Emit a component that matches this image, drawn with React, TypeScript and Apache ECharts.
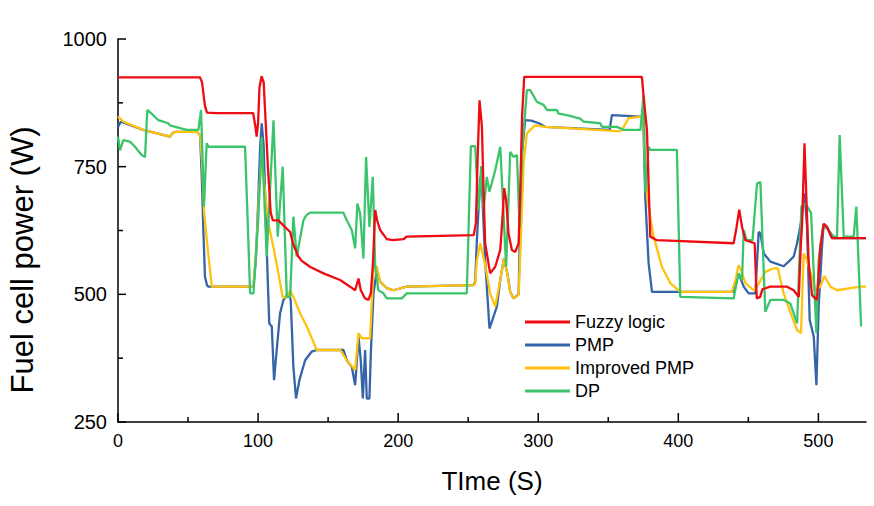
import React, { useEffect, useRef } from "react";
import * as echarts from "echarts";

const xMajorTicks = [0, 100, 200, 300, 400, 500];
const xMinorTicks = [50, 150, 250, 350, 450];
const yMajorTicks = [250, 500, 750, 1000];
const yMinorTicks = [375, 625, 875];

const fuzzyData: number[][] = [
  [0, 925], [58.5, 925], [60, 915], [62, 870], [63.5, 856], [70, 855], [96.5, 855], [98, 830], [99, 809],
  [100, 835], [101, 905], [102.5, 927], [104, 915], [105, 860], [107, 750], [109, 660], [110.5, 645],
  [114.5, 645], [118, 635], [122.9, 622], [125.2, 597], [128.8, 574], [131, 566], [137, 554], [146.7, 541],
  [158.6, 528], [165.7, 515], [169.3, 508], [171.7, 531], [173.3, 508], [176.4, 492], [178.8, 489],
  [180.5, 502], [182, 560], [183.6, 665], [185, 645], [187.1, 626], [191.9, 608], [196, 606], [204, 608],
  [206, 613], [254, 616], [255.5, 640], [256.7, 763], [258.1, 880], [259.8, 828], [261, 700], [262.1, 600],
  [265.7, 541], [269.3, 554], [272.9, 587], [274.5, 650], [275.7, 708], [277.1, 685], [278.8, 619],
  [281.2, 587], [283.6, 583], [286, 600], [287.1, 698], [288.5, 850], [290, 926], [374, 926], [375.5, 880],
  [377.6, 822], [380, 613], [384.8, 606], [439.5, 600], [441.5, 630], [443.5, 666], [445.5, 632],
  [447.9, 606], [454.5, 600], [456, 492], [458.5, 495], [460, 510], [465.7, 515], [477.6, 515],
  [482.4, 508], [486, 495], [487.5, 600], [488.3, 632], [490.1, 796], [491.4, 691], [493.1, 561],
  [495.5, 498], [499, 489], [501.4, 593], [503.8, 638], [506.2, 632], [509.8, 610], [534, 610],
];

const pmpData: number[][] = [
  [0, 828], [2, 838], [5, 835], [18, 822], [37, 809], [39, 816], [40.7, 818], [56.2, 818], [58.6, 812],
  [59.8, 730], [61, 620], [62.1, 534], [63.5, 518], [64.5, 515], [96.7, 515], [98.5, 570], [100.2, 691],
  [101.5, 790], [102.6, 835], [104, 790], [105.5, 650], [107, 520], [108, 443], [109.8, 437], [111.4, 332],
  [113.3, 391], [115.7, 463], [118.1, 489], [121.7, 502], [123.3, 489], [125.2, 358], [127.1, 296],
  [129.5, 332], [133.6, 371], [138.3, 388], [141.9, 391], [161, 391], [163.3, 371], [166.9, 358],
  [169.3, 322], [171.7, 417], [173.3, 371], [174.8, 296], [176.4, 391], [177.6, 296], [179.5, 296],
  [180.5, 385], [182.4, 502], [184.8, 548], [187.1, 525], [191.9, 512], [196.7, 508], [206, 515],
  [253.8, 518], [255, 525], [256.2, 606], [258.6, 730], [260, 700], [262.1, 567], [265.2, 433], [268, 456],
  [270.5, 476], [273, 530], [275.5, 570], [278, 540], [280, 505], [282.4, 492], [286, 500], [287.1, 645],
  [288.5, 780], [290.7, 841], [295, 840], [300.5, 835], [305, 828], [351, 822], [352.6, 851], [372.9, 848],
  [375, 845], [376.4, 691], [378.8, 561], [381.2, 505], [439.5, 505], [441.5, 530], [443, 541],
  [446.7, 515], [450.2, 502], [455, 502], [457.4, 622], [458.6, 620], [461, 580], [465.7, 564],
  [475.2, 555], [478.8, 564], [482.4, 574], [484.8, 600], [487.9, 645], [490.2, 698], [491.9, 632],
  [493.8, 450], [496.7, 417], [498.6, 322], [500.2, 476], [502.6, 593], [503.8, 638], [506.2, 632],
  [509.8, 610], [534, 610],
];

const improvedPmpData: number[][] = [
  [0, 848], [4, 838], [18, 822], [37, 809], [39, 816], [40.7, 818], [56.2, 818], [58.6, 812], [60, 760],
  [61.5, 660], [64, 590], [67, 515], [96.7, 515], [99, 600], [100.5, 690], [102.6, 763], [105, 700],
  [107.4, 639], [110.9, 593], [114.5, 541], [117.6, 494], [120.5, 494], [122.9, 508], [125.2, 495],
  [130, 463], [134.8, 437], [141.9, 391], [158.6, 391], [163.3, 371], [169.3, 352], [171.7, 424],
  [174, 414], [180, 414], [182.4, 554], [184.8, 554], [187.1, 525], [191.9, 512], [196.7, 508], [206, 515],
  [253.8, 518], [255, 521], [256.2, 567], [258.6, 600], [262, 560], [265.7, 502], [269.3, 476], [273, 530],
  [275.5, 570], [278, 540], [280, 505], [282.4, 492], [286, 499], [287.5, 600], [289.5, 756], [291.9, 815],
  [294.3, 822], [297.9, 831], [305, 828], [330, 824], [358.6, 819], [361, 828], [364.5, 845], [373, 848],
  [375, 845], [376.2, 760], [377.6, 698], [380, 650], [382.4, 613], [388.3, 554], [394.3, 522],
  [401.4, 505], [438.3, 505], [441, 530], [443, 557], [444.5, 550], [447.9, 522], [453.8, 508],
  [456.2, 515], [462.1, 544], [468.1, 551], [471, 551], [475.2, 502], [481.2, 456], [484.8, 430],
  [487.6, 424], [489.5, 580], [491.9, 567], [497.9, 508], [501.4, 515], [504.3, 536], [508.6, 515],
  [513.3, 508], [530, 515], [534, 515],
];

const dpData: number[][] = [
  [0, 809], [1.4, 782], [3.8, 802], [8.6, 799], [12.1, 789], [16.9, 773], [19.3, 769], [20.9, 861],
  [24, 854], [28.8, 841], [35.9, 835], [37, 831], [49, 822], [57.4, 822], [59.3, 861], [61.4, 672],
  [63.3, 796], [64.5, 789], [90.7, 789], [92.5, 650], [94.3, 502], [96.7, 502], [100.2, 652], [102.6, 808],
  [106.2, 574], [111, 841], [114, 613], [117.6, 750], [120.5, 495], [122.9, 495], [125.2, 652],
  [127.6, 574], [132.4, 645], [134.5, 655], [137.1, 660], [160.9, 660], [163.3, 645], [166.9, 626],
  [169.3, 590], [170.9, 678], [172.9, 658], [175.2, 570], [177.1, 769], [179.5, 632], [181.9, 730],
  [183.6, 554], [185.9, 508], [189.5, 502], [191.9, 492], [202.6, 492], [206.2, 502], [249, 502],
  [251.9, 790], [255, 790], [257.4, 665], [259.3, 751], [261, 665], [263.3, 730], [265.2, 701],
  [269.3, 743], [272.9, 789], [277.1, 554], [280, 779], [282.4, 769], [284.8, 773], [286.7, 632],
  [288.5, 780], [291.9, 900], [294.3, 900], [299, 877], [303.8, 871], [306.2, 861], [313.3, 861],
  [314.5, 854], [320.5, 851], [330, 844], [332.4, 838], [344.3, 835], [345.5, 828], [356.2, 828],
  [361, 822], [373, 822], [375.2, 890], [376.5, 700], [378.8, 789], [380, 783], [399, 783], [401.4, 495],
  [439.5, 492], [443, 541], [445.5, 528], [446.7, 626], [448.8, 606], [453, 606], [456.2, 717],
  [458.6, 720], [462.1, 466], [465.7, 489], [475.2, 489], [480, 482], [484.8, 443], [487.9, 672],
  [490.7, 678], [494.8, 659], [498.6, 424], [500.2, 567], [503.3, 632], [506.2, 629], [511, 613],
  [513.3, 613], [515.2, 812], [518.1, 613], [525.2, 613], [527.1, 672], [530.5, 437],
];

const seriesNames = ["Fuzzy logic", "PMP", "Improved PMP", "DP"];

const FONT = "'Liberation Sans', Arial, Helvetica, sans-serif";

export default function App() {
  const ref = useRef<HTMLDivElement>(null);
  useEffect(() => {
    if (!ref.current) return;
    const chart = echarts.init(ref.current, undefined, { renderer: "svg" });
    const axisLineStyle = { color: "#000", width: 1.5 };
    const X_MIN = 0;
    const Y_MIN = 250;
    const mk = (name: string, data: number[][], color: string) => ({
      name,
      type: "line",
      data,
      showSymbol: false,
      symbol: "none",
      lineStyle: { color, width: 2.3 },
      itemStyle: { color },
      z: 2,
    });
    const tickSeries = (vals: number[], dir: "x" | "y", len: number) => ({
      type: "custom",
      silent: true,
      z: 5,
      data: vals.map((v) => [v]),
      renderItem: (_p: any, api: any) => {
        const v = api.value(0);
        const pt = dir === "x" ? api.coord([v, Y_MIN]) : api.coord([X_MIN, v]);
        return {
          type: "line",
          shape:
            dir === "x"
              ? { x1: pt[0], y1: pt[1], x2: pt[0], y2: pt[1] - len }
              : { x1: pt[0], y1: pt[1], x2: pt[0] + len, y2: pt[1] },
          style: { stroke: "#000", lineWidth: 1.5 },
        };
      },
    });
    chart.setOption({
      animation: false,
      backgroundColor: "#fff",
      textStyle: { fontFamily: FONT },
      grid: { left: 118, right: 8, top: 39, bottom: 84, containLabel: false },
      legend: {
        data: seriesNames,
        orient: "vertical",
        left: 525,
        top: 313,
        padding: 0,
        icon: "rect",
        itemWidth: 45,
        itemHeight: 3,
        itemGap: 5,
        textStyle: { fontSize: 18, color: "#000", fontFamily: FONT, lineHeight: 18 },
      },
      graphic: [
        {
          type: "text",
          x: 22,
          y: 260,
          rotation: Math.PI / 2,
          silent: true,
          style: {
            text: "Fuel cell power (W)",
            fontSize: 31,
            fontFamily: FONT,
            fill: "#000",
            textAlign: "center",
            textVerticalAlign: "middle",
          },
        },
      ],
      xAxis: {
        type: "value",
        min: 0,
        max: 534,
        interval: 100,
        name: "TIme (S)",
        nameLocation: "middle",
        nameGap: 46,
        nameTextStyle: { fontSize: 26, color: "#000", fontFamily: FONT },
        axisLine: { onZero: false, lineStyle: axisLineStyle },
        axisTick: { show: false },
        axisLabel: { fontSize: 18, color: "#000", margin: 10, fontFamily: FONT, customValues: xMajorTicks },
        splitLine: { show: false },
      },
      yAxis: {
        type: "value",
        min: 250,
        max: 1000,
        interval: 250,
        axisLine: { onZero: false, lineStyle: axisLineStyle },
        axisTick: { show: false },
        axisLabel: {
          fontSize: 20,
          color: "#000",
          margin: 11,
          fontFamily: FONT,
          formatter: (v: number) => String(v),
        },
        splitLine: { show: false },
      },
      series: [
        mk("PMP", pmpData, "#3565A8"),
        mk("Improved PMP", improvedPmpData, "#FFC20E"),
        mk("DP", dpData, "#3CC46C"),
        mk("Fuzzy logic", fuzzyData, "#EE0B12"),
        tickSeries(xMajorTicks, "x", 9),
        tickSeries(xMinorTicks, "x", 5),
        tickSeries(yMajorTicks, "y", 8),
        tickSeries(yMinorTicks, "y", 5),
      ],
    });
    return () => chart.dispose();
  }, []);
  return <div ref={ref} style={{ position: "fixed", left: 0, top: 0, width: 874, height: 506 }} />;
}
